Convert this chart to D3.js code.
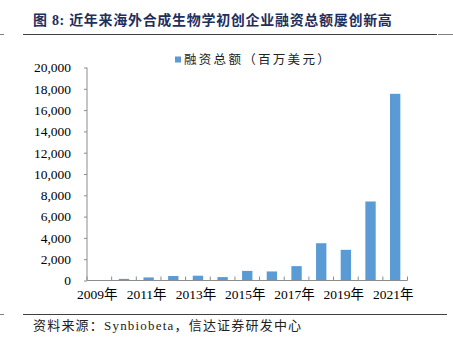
<!DOCTYPE html>
<html>
<head>
<meta charset="utf-8">
<script src="https://cdn.jsdelivr.net/npm/d3@7"></script>
<style>
  html, body { margin: 0; padding: 0; background: #fff; }
  svg { display: block; }
</style>
</head>
<body>
<svg id="chart" width="453" height="337"></svg>
<script>
// Annual funding of overseas synthetic-biology startups (USD millions)
const years = ["2009年","2010年","2011年","2012年","2013年","2014年","2015年","2016年","2017年","2018年","2019年","2020年","2021年"];
const funding = [30, 150, 290, 420, 450, 320, 900, 850, 1350, 3500, 2880, 7420, 17530];
const yTicks = [0, 2000, 4000, 6000, 8000, 10000, 12000, 14000, 16000, 18000, 20000];
const titleText = "图 8: 近年来海外合成生物学初创企业融资总额屡创新高";
const legendText = "融资总额（百万美元）";
const sourceText = "资料来源：Synbiobeta，信达证券研发中心";

const serif = "'Liberation Serif', 'Times New Roman', 'Noto Sans CJK SC', serif";
const cjk = "'Liberation Serif', 'Noto Sans CJK SC', serif";
const barColor = "#5b9bd5";
const axisColor = "#8c8c8c";

const svg = d3.select("#chart");

// Header
svg.append("text")
  .attr("x", 33).attr("y", 25)
  .attr("font-family", cjk).attr("font-size", 14).attr("font-weight", "bold")
  .attr("letter-spacing", 0.7)
  .attr("fill", "#1f2f5c")
  .text(titleText);
svg.append("line").attr("x1", 23).attr("x2", 437).attr("y1", 34.5).attr("y2", 34.5)
  .attr("stroke", "#404040").attr("stroke-width", 1.2);
svg.append("line").attr("x1", 0).attr("x2", 4).attr("y1", 34.5).attr("y2", 34.5)
  .attr("stroke", "#808080").attr("stroke-width", 1);
svg.append("line").attr("x1", 438).attr("x2", 453).attr("y1", 34.5).attr("y2", 34.5)
  .attr("stroke", "#808080").attr("stroke-width", 1);

// Plot area
const x = d3.scaleBand().domain(years).range([87, 407.5]).paddingInner(0.58).paddingOuter(0.29);
const y = d3.scaleLinear().domain([0, 20000]).range([280.5, 67.5]);

// Bars
svg.append("g").selectAll("rect")
  .data(years.map((yr, i) => ({ yr, v: funding[i] })))
  .join("rect")
  .attr("x", d => x(d.yr))
  .attr("width", x.bandwidth())
  .attr("y", d => y(d.v))
  .attr("height", d => y(0) - y(d.v))
  .attr("fill", barColor);

// Y axis
const yAxis = svg.append("g")
  .attr("transform", "translate(87,0)")
  .call(d3.axisLeft(y).tickValues(yTicks).tickSize(3).tickPadding(13)
    .tickFormat(d3.format(",")));
yAxis.select(".domain").attr("stroke", axisColor).attr("d", "M0,67.5V280.5");
yAxis.selectAll(".tick line").attr("stroke", axisColor);
yAxis.selectAll(".tick text")
  .attr("font-family", serif).attr("font-size", 13.5).attr("fill", "#000");

// X axis: tick marks at band boundaries, labels every other year
const xg = svg.append("g").attr("transform", "translate(0,280.5)");
xg.append("line").attr("x1", 87).attr("x2", 407.5).attr("stroke", axisColor);
const step = x.step();
const bounds = d3.range(years.length + 1).map(i => x.range()[0] + i * step);
xg.selectAll("line.tk").data(bounds).join("line").attr("class", "tk")
  .attr("x1", d => d).attr("x2", d => d).attr("y1", 0).attr("y2", -4)
  .attr("stroke", axisColor);
xg.selectAll("text").data(years.filter((d, i) => i % 2 === 0)).join("text")
  .attr("x", d => x(d) + x.bandwidth() / 2 - 2)
  .attr("y", 18)
  .attr("text-anchor", "middle")
  .attr("font-family", cjk).attr("font-size", 13.5).attr("fill", "#000")
  .text(d => d);

// Legend
svg.append("rect").attr("x", 175).attr("y", 56.5).attr("width", 6).attr("height", 6).attr("fill", barColor);
svg.append("text").attr("x", 184).attr("y", 63.5)
  .attr("font-family", cjk).attr("font-size", 12.5).attr("letter-spacing", 2.3).attr("fill", "#222")
  .text(legendText);

// Footer
svg.append("line").attr("x1", 23).attr("x2", 447).attr("y1", 314.5).attr("y2", 314.5)
  .attr("stroke", "#404040").attr("stroke-width", 1.2);
svg.append("line").attr("x1", 0).attr("x2", 4).attr("y1", 314.5).attr("y2", 314.5)
  .attr("stroke", "#808080").attr("stroke-width", 1);
svg.append("text").attr("x", 33).attr("y", 330)
  .attr("font-family", cjk).attr("font-size", 13).attr("letter-spacing", 1.2).attr("fill", "#222")
  .text(sourceText);
</script>
</body>
</html>
